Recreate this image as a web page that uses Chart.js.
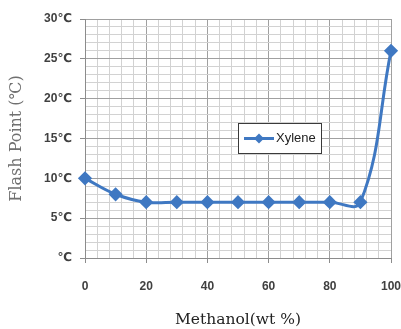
<!DOCTYPE html>
<html lang="en">
<head>
  <meta charset="utf-8">
  <title>Flash Point</title>
  <script src="https://cdn.jsdelivr.net/npm/chart.js@4.4.1/dist/chart.umd.min.js"></script>
  <style>
    html, body { margin: 0; padding: 0; background: #fff; }
    #wrap { width: 401px; height: 329px; }
  </style>
</head>
<body>
<div id="wrap"><canvas id="flash" width="401" height="329"></canvas></div>
<script>
// methanol content (wt %) and measured flash point (℃)
var methanol = [0, 10, 20, 30, 40, 50, 60, 70, 80, 90, 100];
var flashPoint = [10, 8, 7, 7, 7, 7, 7, 7, 7, 7, 26];
var seriesName = "Xylene";
var yTicks = [0, 5, 10, 15, 20, 25, 30];
var xTicks = [0, 20, 40, 60, 80, 100];

var blue = "#3f78c2";

var points = [];
for (var i = 0; i < methanol.length; i++) {
    points.push({x: methanol[i], y: flashPoint[i]});
}

function yLabel(v) {
    if (yTicks.indexOf(v) < 0) return "";
    return v === 0 ? "℃" : v + "℃";
}
function xLabel(v) {
    return xTicks.indexOf(v) < 0 ? "" : String(v);
}

// boxed legend sitting inside the plot area
var innerLegend = {
    id: "innerLegend",
    afterDraw: function(chart) {
        var ctx = chart.ctx;
        var a = chart.chartArea;
        var left = Math.round(a.left + (a.right - a.left) * 0.50);
        var top = Math.round(a.top + (a.bottom - a.top) * 0.435);
        var w = 83, h = 30;
        ctx.save();
        ctx.fillStyle = "#fff";
        ctx.fillRect(left, top, w, h);
        ctx.strokeStyle = "#3a3a3a";
        ctx.lineWidth = 1;
        ctx.strokeRect(left + 0.5, top + 0.5, w, h);
        var cy = top + h / 2 + 0.5;
        ctx.strokeStyle = blue;
        ctx.lineWidth = 3;
        ctx.beginPath();
        ctx.moveTo(left + 6, cy);
        ctx.lineTo(left + 36, cy);
        ctx.stroke();
        ctx.fillStyle = blue;
        ctx.beginPath();
        ctx.moveTo(left + 21, cy - 5);
        ctx.lineTo(left + 26, cy);
        ctx.lineTo(left + 21, cy + 5);
        ctx.lineTo(left + 16, cy);
        ctx.closePath();
        ctx.fill();
        ctx.fillStyle = "#222";
        ctx.font = "13px 'Liberation Sans Narrow', 'Liberation Sans', sans-serif";
        ctx.textBaseline = "middle";
        ctx.fillText(seriesName, left + 38, cy);
        ctx.restore();
    }
};

var chart = new Chart(document.getElementById("flash").getContext("2d"), {
    type: "line",
    data: {
        datasets: [{
            label: seriesName,
            data: points,
            borderColor: blue,
            backgroundColor: blue,
            borderWidth: 3,
            tension: 0.4,
            pointStyle: "rectRot",
            pointRadius: 5,
            pointHoverRadius: 5,
            clip: false
        }]
    },
    plugins: [innerLegend],
    options: {
        responsive: false,
        animation: false,
        layout: { padding: { top: 19, right: 10, left: 0, bottom: 0 } },
        plugins: {
            legend: { display: false },
            tooltip: { enabled: false }
        },
        scales: {
            x: {
                type: "linear",
                min: 0,
                max: 100,
                afterFit: function(s) { s.height = 71; s.paddingRight = 0; s.paddingLeft = 0; },
                ticks: {
                    stepSize: 4,
                    autoSkip: false,
                    maxRotation: 0,
                    padding: 16,
                    color: "#404040",
                    font: { family: "'Liberation Sans', sans-serif", size: 12, weight: "bold" },
                    callback: xLabel
                },
                grid: {
                    color: function(c) { return xTicks.indexOf(c.tick.value) >= 0 ? "#a0a0a0" : "#d2d2d2"; },
                    tickColor: function(c) { return xTicks.indexOf(c.tick.value) >= 0 ? "#8c8c8c" : "rgba(0,0,0,0)"; },
                    tickLength: 5,
                    lineWidth: 1
                },
                border: { color: "#8c8c8c" },
                title: {
                    display: true,
                    text: "Methanol(wt %)",
                    color: "#222",
                    font: { family: "'DejaVu Serif', serif", size: 15.5 },
                    padding: { top: 4, bottom: 0 }
                }
            },
            y: {
                min: 0,
                max: 30,
                afterFit: function(s) { s.width = 85; s.paddingTop = 0; s.paddingBottom = 0; },
                ticks: {
                    stepSize: 1,
                    autoSkip: false,
                    padding: 8,
                    color: "#404040",
                    font: { family: "'Liberation Sans', 'DejaVu Sans', sans-serif", size: 12, weight: "bold" },
                    callback: yLabel
                },
                grid: {
                    color: function(c) { return yTicks.indexOf(c.tick.value) >= 0 ? "#a0a0a0" : "#d2d2d2"; },
                    tickColor: function(c) { return yTicks.indexOf(c.tick.value) >= 0 ? "#8c8c8c" : "rgba(0,0,0,0)"; },
                    tickLength: 5,
                    lineWidth: 1
                },
                border: { color: "#8c8c8c" },
                title: {
                    display: true,
                    text: "Flash Point (℃)",
                    color: "#707070",
                    font: { family: "'DejaVu Serif', serif", size: 16 },
                    padding: { top: 7, bottom: 4 }
                }
            }
        }
    }
});
</script>
</body>
</html>
